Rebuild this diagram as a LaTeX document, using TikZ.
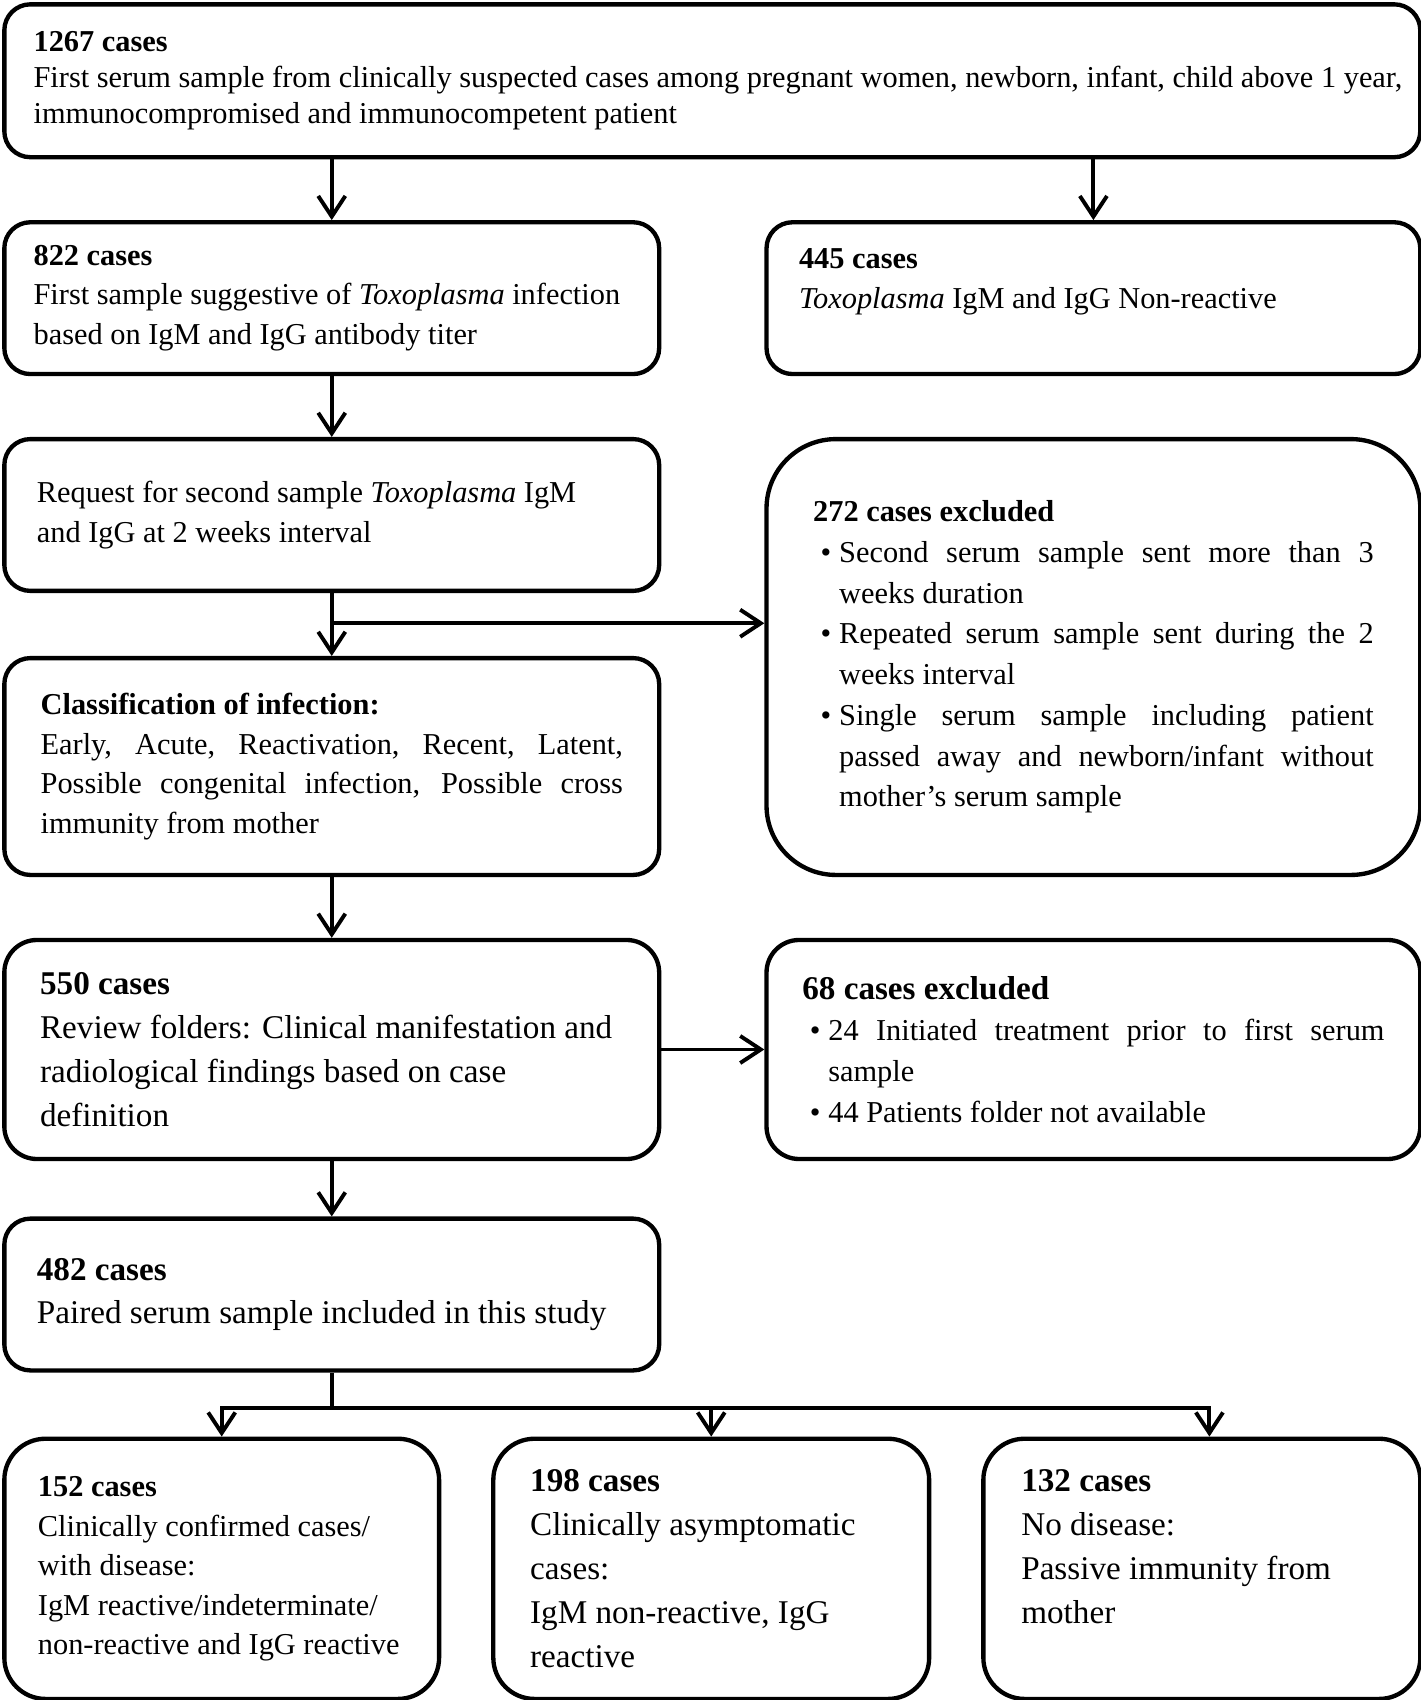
\documentclass[tikz,border=0pt]{standalone}
\usepackage{fontspec}
\setmainfont{Liberation Serif}
\usetikzlibrary{arrows.meta,calc}
\newlength{\du}
\setlength{\du}{0.5pt}
% font sizes of the flow chart
\newcommand{\fnorm}{\fontsize{14}{18.25}\selectfont}
\newcommand{\fbig}{\fontsize{15.3}{20.25}\selectfont}
\newcommand{\bitem}{\par\hangindent=12pt\hangafter=1\noindent\hspace*{3.5pt}\makebox[8.5pt][l]{\textbullet}}
\tikzset{
  flowbox/.style={draw, line width=2pt, rounded corners=12pt, anchor=north west,
    inner sep=0pt, align=flush left, font=\fnorm,
    execute at begin node={\setlength{\parindent}{0pt}}},
  arr/.style={line width=1.8pt, -{Straight Barb[length=9.5pt,width=12.5pt]}},
  flowline/.style={line width=1.8pt}
}
\begin{document}
\begin{tikzpicture}
\useasboundingbox (0,0) rectangle (1310\du,-1568\du);
% first row
\node[flowbox, minimum width=1306\du, minimum height=141\du, text width=1252\du,
  font=\fontsize{14}{16.5}\selectfont] (top) at (2\du,-2\du)
  {\textbf{1267 cases}\\\mbox{First serum sample from clinically suspected cases among pregnant women, newborn, infant, child above 1 year,}\\immunocompromised and immunocompetent patient};
\node[flowbox, minimum width=604\du, minimum height=140\du, text width=550\du] (b822) at (2\du,-203\du)
  {\textbf{822 cases}\\\mbox{First sample suggestive of \textit{Toxoplasma} infection}\\based on IgM and IgG antibody titer};
\node[flowbox, minimum width=603\du, minimum height=140\du, text width=543\du] (b445) at (705\du,-203\du)
  {\textbf{445 cases}\\\textit{Toxoplasma} IgM and IgG Non-reactive\\\mbox{}};
\node[flowbox, minimum width=604\du, minimum height=140\du, text width=544\du] (req) at (2\du,-403\du)
  {Request for second sample \textit{Toxoplasma} IgM\\and IgG at 2 weeks interval};
\node[flowbox, align=justify, rounded corners=32pt, minimum width=603\du, minimum height=402\du,
  text width=517\du, font=\fontsize{14}{18.8}\selectfont] (b272) at (705\du,-403\du)
  {\textbf{272 cases excluded}\bitem Second serum sample sent more than 3\linebreak weeks duration\bitem Repeated serum sample sent during the 2\linebreak weeks interval\bitem Single serum sample including patient\linebreak passed away and newborn/infant without\linebreak mother's serum sample\par};
\node[flowbox, align=justify, minimum width=604\du, minimum height=200\du, text width=537\du] (cls) at (2\du,-605\du)
  {\textbf{Classification of infection:}\par Early, Acute, Reactivation, Recent, Latent,\linebreak Possible congenital infection, Possible cross\linebreak immunity from mother\par};
\node[flowbox, rounded corners=15pt, minimum width=604\du, minimum height=202\du, text width=538\du, font=\fbig] (b550) at (2\du,-865\du)
  {\textbf{550 cases}\\Review folders: Clinical manifestation and\\radiological findings based on case\\definition};
\node[flowbox, align=justify, rounded corners=15pt, minimum width=603\du, minimum height=202\du,
  text width=537\du, font=\fontsize{14}{19}\selectfont] (b68) at (705\du,-865\du)
  {{\fbig\textbf{68 cases excluded}\par}\bitem 24 Initiated treatment prior to first serum\linebreak sample\bitem 44 Patients folder not available\par};
\node[flowbox, minimum width=604\du, minimum height=140\du, text width=544\du, font=\fbig] (b482) at (2\du,-1122\du)
  {\textbf{482 cases}\\Paired serum sample included in this study};
% last row
\node[flowbox, rounded corners=19pt, minimum width=401\du, minimum height=240\du, text width=339\du] (b152) at (2\du,-1325\du)
  {\textbf{152 cases}\\Clinically confirmed cases/\\with disease:\\IgM reactive/indeterminate/\\\mbox{non-reactive and IgG reactive}};
\node[flowbox, rounded corners=19pt, minimum width=402\du, minimum height=240\du, text width=334\du, font=\fbig] (b198) at (453\du,-1325\du)
  {\textbf{198 cases}\\Clinically asymptomatic\\cases:\\IgM non-reactive, IgG\\reactive};
\node[flowbox, rounded corners=19pt, minimum width=403\du, minimum height=240\du, text width=333\du, font=\fbig] (b132) at (905\du,-1325\du)
  {\textbf{132 cases}\\No disease:\\Passive immunity from\\mother\\\mbox{}};
% connectors
\draw[arr] (b822.north |- top.south) -- (b822.north);
\draw[arr] (b445.north |- top.south) -- (b445.north);
\draw[arr] (b822.south) -- (req.north);
\draw[arr] (req.south) -- (cls.north);
\coordinate (split1) at ($(req.south)!0.48!(cls.north)$);
\draw[arr] (split1) -- (split1 -| b272.west);
\draw[arr] (cls.south) -- (b550.north);
\draw[arr] (b550.east) -- (b68.west);
\draw[arr] (b550.south) -- (b482.north);
\coordinate (split2) at ($(b482.south)!0.55!(b482.south |- b152.north)$);
\draw[flowline] (b482.south) -- (split2);
\draw[arr] (split2) -| (b152.north);
\draw[arr] (split2) -| ([xshift=7\du]b132.north);
\draw[arr] (split2 -| b198.north) -- (b198.north);
\end{tikzpicture}
\end{document}
